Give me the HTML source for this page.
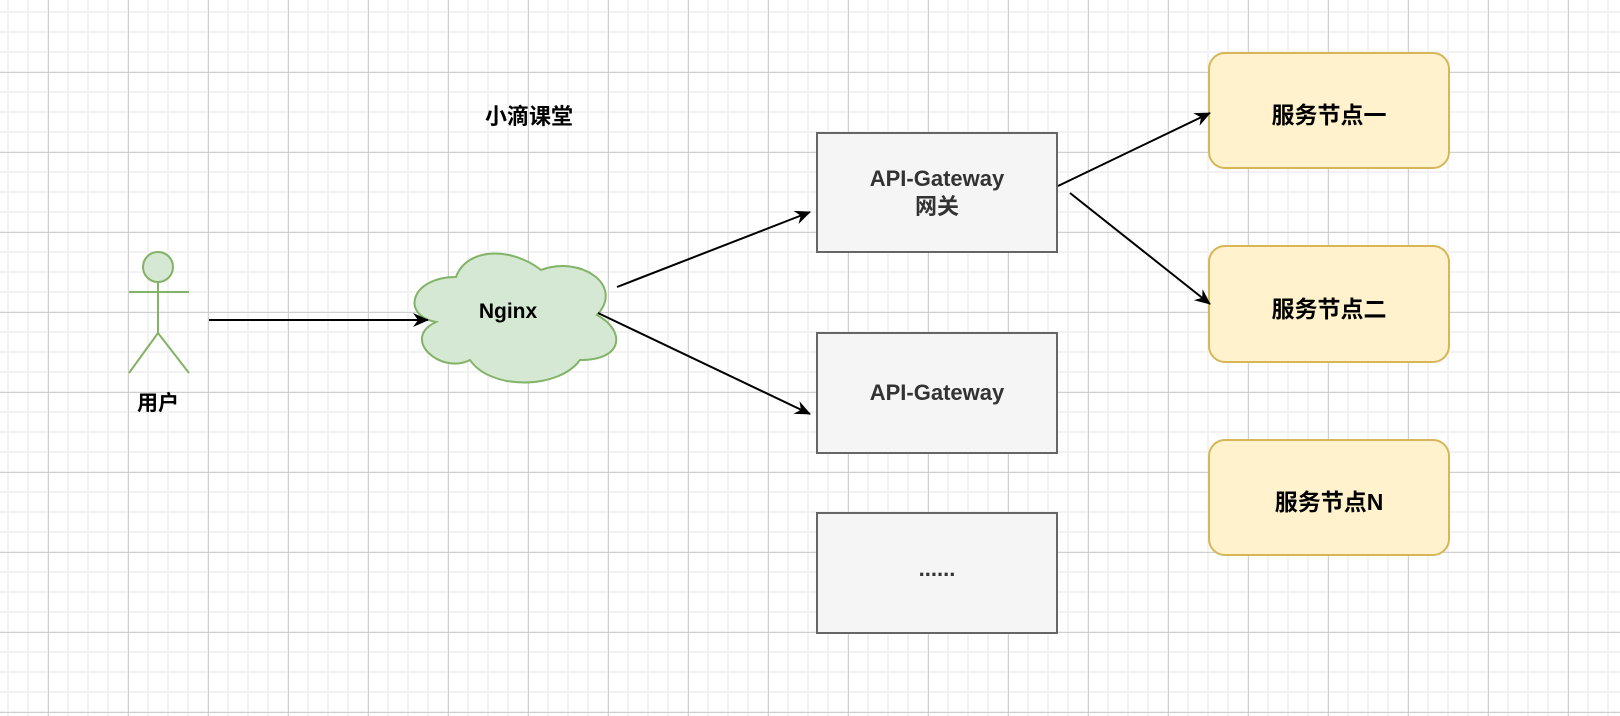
<!DOCTYPE html>
<html><head><meta charset="utf-8"><style>
html,body{margin:0;padding:0;}
body{width:1620px;height:716px;overflow:hidden;background:#fff;position:relative;font-family:"Liberation Sans","Noto Sans CJK SC",sans-serif;}
.grid{position:absolute;inset:0;
background-image:
linear-gradient(to right,#cfcfcf 1px,transparent 1px),
linear-gradient(to bottom,#cfcfcf 1px,transparent 1px),
linear-gradient(to right,#f2f2f2 2px,transparent 2px),
linear-gradient(to bottom,#f2f2f2 2px,transparent 2px);
background-size:80px 80px,80px 80px,20px 20px,20px 20px;
background-position:48px 0,0 72px,7px 0,0 11px;}
.t{position:absolute;font-weight:bold;text-align:center;white-space:nowrap;}
</style></head><body>
<div class="grid"></div>
<svg width="1620" height="716" style="position:absolute;left:0;top:0">
<defs><marker id="a" markerWidth="16" markerHeight="14" refX="15" refY="7" orient="auto" markerUnits="userSpaceOnUse"><path d="M0,0 L16,7 L0,14 L5,7 Z" fill="#000"/></marker></defs>
<g stroke="#82b366" stroke-width="2" fill="none">
<circle cx="158" cy="267" r="15" fill="#d5e8d4"/>
<line x1="158" y1="282" x2="158" y2="333"/>
<line x1="129" y1="292" x2="189" y2="292"/>
<line x1="158" y1="333" x2="129" y2="373"/>
<line x1="158" y1="333" x2="189" y2="373"/>
</g>
<path d="M456,277 C411,277 400,315 436,322 C400,339 441,375 470,360 C490,390 558,390 580,360 C625,360 625,330 597,315 C625,285 580,255 541,270 C512,247 467,247 456,277 Z" fill="#d5e8d4" stroke="#82b366" stroke-width="2"/>
<rect x="817" y="133" width="240" height="119" fill="#f5f5f5" stroke="#666" stroke-width="2"/>
<rect x="817" y="333" width="240" height="120" fill="#f5f5f5" stroke="#666" stroke-width="2"/>
<rect x="817" y="513" width="240" height="120" fill="#f5f5f5" stroke="#666" stroke-width="2"/>
<rect x="1209" y="53" width="240" height="115" rx="16" fill="#fff2cc" stroke="#d6b656" stroke-width="2"/>
<rect x="1209" y="246" width="240" height="116" rx="16" fill="#fff2cc" stroke="#d6b656" stroke-width="2"/>
<rect x="1209" y="440" width="240" height="115" rx="16" fill="#fff2cc" stroke="#d6b656" stroke-width="2"/>
<g stroke="#000" stroke-width="2" marker-end="url(#a)">
<line x1="209" y1="320" x2="428" y2="320"/>
<line x1="617" y1="287" x2="810" y2="212"/>
<line x1="598" y1="313" x2="810" y2="414"/>
<line x1="1058" y1="186" x2="1210" y2="113"/>
<line x1="1070" y1="193" x2="1210" y2="304"/>
</g>
</svg>
<div class="t" style="left:470px;top:99px;width:118px;font-size:22px;color:#000;">小滴课堂</div>
<div class="t" style="left:108px;top:387px;width:100px;font-size:21px;color:#000;">用户</div>
<div class="t" style="left:458px;top:300px;width:100px;font-size:21px;color:#000;">Nginx</div>
<div class="t" style="left:817px;top:165px;width:240px;font-size:22px;line-height:28px;color:#333;">API-Gateway<br>网关</div>
<div class="t" style="left:817px;top:380px;width:240px;font-size:22px;color:#333;">API-Gateway</div>
<div class="t" style="left:817px;top:556px;width:240px;font-size:22px;color:#333;">......</div>
<div class="t" style="left:1209px;top:96px;width:240px;font-size:23px;color:#000;">服务节点一</div>
<div class="t" style="left:1209px;top:290px;width:240px;font-size:23px;color:#000;">服务节点二</div>
<div class="t" style="left:1209px;top:483px;width:240px;font-size:23px;color:#000;">服务节点N</div>
</body></html>
